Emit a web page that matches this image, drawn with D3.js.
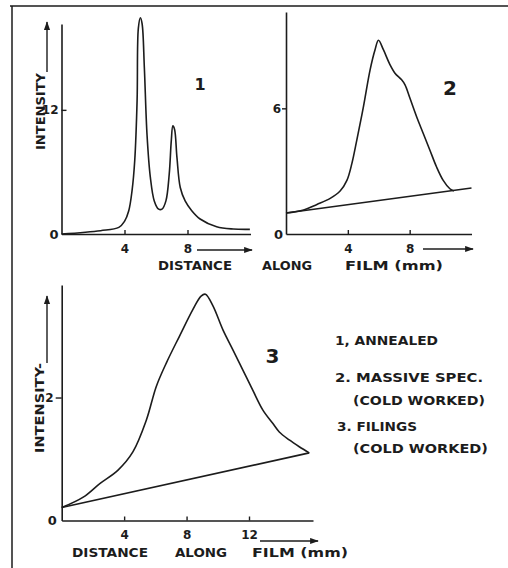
<!DOCTYPE html>
<html>
<head>
<meta charset="utf-8">
<script src="https://cdn.jsdelivr.net/npm/d3@7"></script>
<style>
  body { margin: 0; background: #fff; }
  svg text { font-family: "DejaVu Sans", sans-serif; font-weight: bold; fill: #1c1c1c; }
</style>
</head>
<body>
<svg id="chart" width="508" height="568"></svg>
<script>
// curve 1 - annealed
const distance1 = [0, 2.48, 3.64, 4.0, 4.27, 4.48, 4.65, 4.8, 4.88, 5.01, 5.12, 5.26, 5.43, 5.64, 5.89, 6.17, 6.38, 6.63, 6.84, 6.97, 7.07, 7.18, 7.33, 7.54, 7.85, 8.27, 8.8, 9.85, 10.9, 11.96];
const intensity1 = [0, 0.32, 0.64, 1.22, 2.25, 4.2, 7.1, 12.9, 19.9, 20.9, 20.3, 16.1, 9.6, 5.5, 3.2, 2.4, 2.4, 3.2, 5.8, 9.0, 10.45, 10.1, 7.4, 4.5, 3.2, 2.25, 1.45, 0.7, 0.48, 0.45];

// curve 2 - massive spec. (cold worked)
const distance2 = [0, 1.14, 2.0, 2.86, 3.5, 3.94, 4.26, 4.58, 5.01, 5.44, 5.76, 5.98, 6.3, 6.73, 7.05, 7.48, 7.7, 8.02, 8.45, 8.88, 9.31, 9.74, 10.17, 10.6, 10.86];
const intensity2 = [1.0, 1.15, 1.41, 1.7, 2.05, 2.56, 3.36, 4.48, 6.08, 7.84, 8.8, 9.25, 8.8, 8.08, 7.68, 7.36, 7.12, 6.48, 5.6, 4.8, 4.0, 3.2, 2.56, 2.16, 2.05];
const baseDistance2 = [0, 12];
const baseIntensity2 = [1.0, 2.2];

// curve 3 - filings (cold worked)
const distance3 = [0, 1.38, 2.44, 3.61, 4.57, 5.42, 6.06, 6.7, 7.55, 8.4, 8.93, 9.21, 9.69, 10.33, 10.96, 11.6, 12.24, 12.88, 13.52, 13.94, 14.58, 15.22, 15.86];
const intensity3 = [0.21, 0.38, 0.6, 0.82, 1.12, 1.63, 2.18, 2.56, 3.0, 3.43, 3.65, 3.68, 3.49, 3.1, 2.78, 2.45, 2.12, 1.8, 1.58, 1.44, 1.31, 1.2, 1.1];
const baseDistance3 = [0, 15.86];
const baseIntensity3 = [0.21, 1.1];

const xTicks12 = [4, 8];
const xTicks16 = [4, 8, 12];

const legendLines = ['1, ANNEALED', '2. MASSIVE SPEC.', '(COLD WORKED)', '3. FILINGS', '(COLD WORKED)'];

const ink = '#1c1c1c';
const svg = d3.select('#chart');

// arrow head
svg.append('defs').append('marker')
  .attr('id', 'arrow')
  .attr('viewBox', '0 -4 10 8')
  .attr('refX', 9).attr('refY', 0)
  .attr('markerWidth', 9).attr('markerHeight', 7)
  .attr('markerUnits', 'userSpaceOnUse')
  .attr('orient', 'auto')
  .append('path')
  .attr('d', 'M0,-3.5L10,0L0,3.5Z')
  .attr('fill', ink);

// page frame (top and left edges only)
svg.append('path')
  .attr('d', 'M10,6H508M12,6V568')
  .attr('stroke', ink).attr('stroke-width', 1.5).attr('fill', 'none');

function zip(xs, ys) {
  return xs.map((d, i) => [d, ys[i]]);
}

function panel(opt) {
  const x = d3.scaleLinear().domain(opt.xDomain).range(opt.xRange);
  const y = d3.scaleLinear().domain(opt.yDomain).range(opt.yRange);
  const g = svg.append('g');

  const xAxis = g.append('g')
    .attr('transform', 'translate(0,' + opt.yRange[0] + ')')
    .call(d3.axisBottom(x).tickValues(opt.xTicks).tickFormat(d3.format('d'))
      .tickSize(-4).tickSizeOuter(0).tickPadding(10));
  const yAxis = g.append('g')
    .attr('transform', 'translate(' + opt.xRange[0] + ',0)')
    .call(d3.axisLeft(y).tickValues([0, opt.yTick]).tickFormat(d3.format('d'))
      .tickSize(opt.yTickSize).tickSizeOuter(0).tickPadding(opt.yPad));

  [xAxis, yAxis].forEach(a => {
    a.select('.domain').attr('stroke', ink).attr('stroke-width', 1.6);
    a.selectAll('.tick line').attr('stroke', ink).attr('stroke-width', 1.4);
    a.selectAll('.tick text').style('font-size', '12px').attr('fill', ink);
  });
  yAxis.selectAll('.tick').filter(d => d === 0).select('line').remove();
  yAxis.selectAll('.tick').filter(d => d === 0).select('text')
    .attr('x', opt.zeroX).style('font-size', '13px');

  const line = d3.line()
    .x(d => x(d[0]))
    .y(d => y(d[1]))
    .curve(d3.curveCatmullRom.alpha(0.5));

  opt.curves.forEach(c => {
    g.append('path')
      .datum(c)
      .attr('d', line)
      .attr('fill', 'none')
      .attr('stroke', ink)
      .attr('stroke-width', 1.6)
      .attr('stroke-linejoin', 'round');
  });

  g.append('text')
    .attr('x', opt.num[0]).attr('y', opt.num[1])
    .attr('text-anchor', 'middle')
    .style('font-size', opt.num[2] + 'px')
    .text(opt.num[3]);
}

panel({
  xDomain: [0, 12], xRange: [61.5, 250.5],
  yDomain: [0, 20.3], yRange: [234, 24],
  xTicks: xTicks12, yTick: 12, yTickSize: -5, yPad: 3, zeroX: -3,
  curves: [zip(distance1, intensity1)],
  num: [200, 90, 16, '1']
});

panel({
  xDomain: [0, 12], xRange: [286, 471.5],
  yDomain: [0, 10.6], yRange: [234, 12],
  xTicks: xTicks12, yTick: 6, yTickSize: 4, yPad: 1, zeroX: -3,
  curves: [zip(distance2, intensity2), zip(baseDistance2, baseIntensity2)],
  num: [450, 95, 20, '2']
});

panel({
  xDomain: [0, 16.1], xRange: [61.7, 313],
  yDomain: [0, 3.83], yRange: [520.5, 285],
  xTicks: xTicks16, yTick: 2, yTickSize: 6, yPad: 2, zeroX: -5,
  curves: [zip(distance3, intensity3), zip(baseDistance3, baseIntensity3)],
  num: [272.5, 363, 20, '3']
});

// direction arrows
const arrows = [[197, 250, 252, 250], [423, 249, 473, 249], [260, 541, 318, 541], [47, 72, 47, 22], [47, 363, 47, 296]];
svg.selectAll('line.arrow')
  .data(arrows)
  .join('line')
  .attr('class', 'arrow')
  .attr('x1', d => d[0]).attr('y1', d => d[1])
  .attr('x2', d => d[2]).attr('y2', d => d[3])
  .attr('stroke', ink).attr('stroke-width', 1.4)
  .attr('marker-end', 'url(#arrow)');

// axis titles
function label(txt, x, y, len, size) {
  svg.append('text')
    .attr('x', x).attr('y', y)
    .attr('textLength', len).attr('lengthAdjust', 'spacingAndGlyphs')
    .style('font-size', (size || 13) + 'px')
    .text(txt);
}

label('DISTANCE', 158, 270, 74);
label('ALONG', 262, 270, 50);
label('FILM (mm)', 345, 270, 98);
label('DISTANCE', 72, 557, 76);
label('ALONG', 175, 557, 52);
label('FILM (mm)', 252, 557, 96);

svg.append('text')
  .attr('transform', 'translate(45,150) rotate(-90)')
  .attr('textLength', 77).attr('lengthAdjust', 'spacingAndGlyphs')
  .style('font-size', '13px')
  .text('INTENSITY');
svg.append('text')
  .attr('transform', 'translate(44,453) rotate(-90)')
  .attr('textLength', 90).attr('lengthAdjust', 'spacingAndGlyphs')
  .style('font-size', '13px')
  .text('INTENSITY-');

// legend
const legendPos = [[335, 345, 103], [335, 382, 148], [353, 405, 132], [337, 431, 80], [353, 453, 135]];
legendLines.forEach((t, i) => label(t, legendPos[i][0], legendPos[i][1], legendPos[i][2], 13));
</script>
</body>
</html>
